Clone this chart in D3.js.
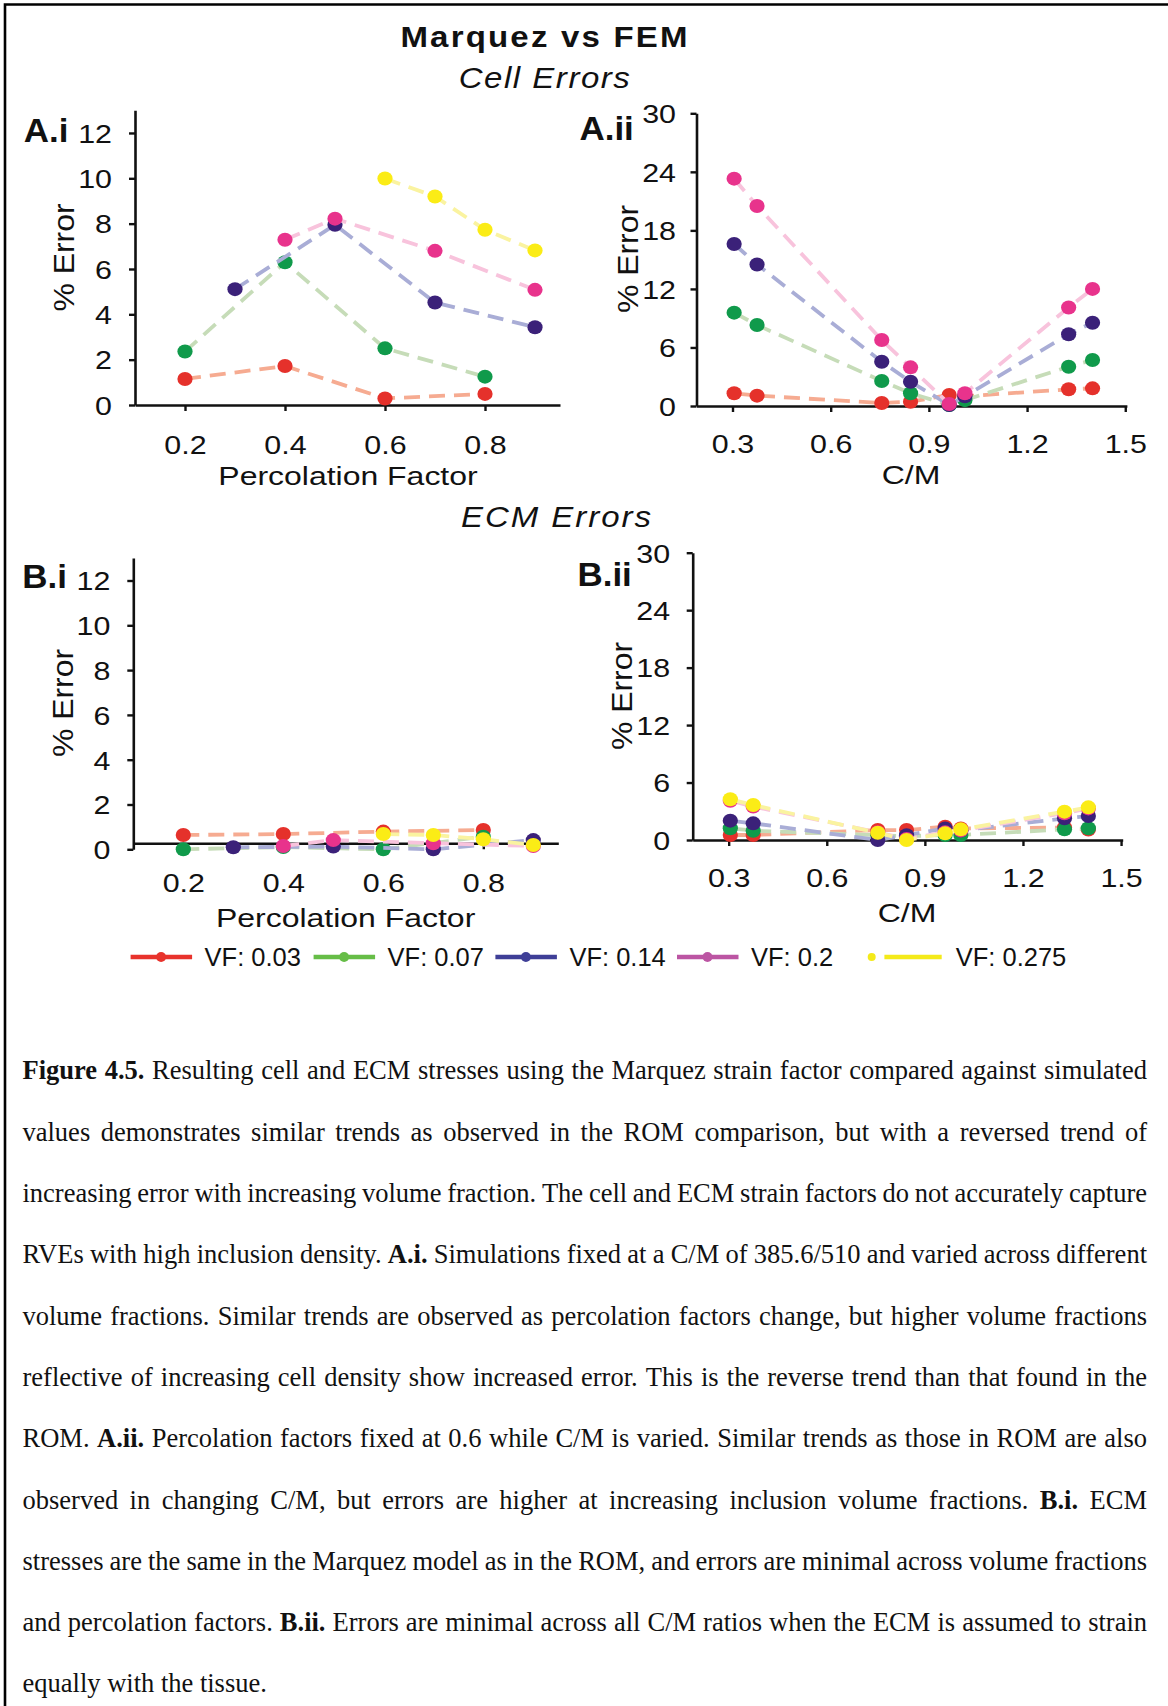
<!DOCTYPE html>
<html>
<head>
<meta charset="utf-8">
<script src="https://cdn.jsdelivr.net/npm/d3@7"></script>
<style>
  html, body { margin: 0; padding: 0; background: #fff; }
  svg { display: block; }
</style>
</head>
<body>
<svg id="fig" width="1168" height="1706"></svg>
<script>
// ---------------- data ----------------
const seriesNames = ["VF: 0.03", "VF: 0.07", "VF: 0.14", "VF: 0.2", "VF: 0.275"];

// percolation factors sampled for each volume fraction
const pfVF003  = [0.2, 0.4, 0.6, 0.8];
const pfVF007  = [0.2, 0.4, 0.6, 0.8];
const pfVF014  = [0.3, 0.5, 0.7, 0.9];
const pfVF020  = [0.4, 0.5, 0.7, 0.9];
const pfVF0275 = [0.6, 0.7, 0.8, 0.9];

// cell % error vs percolation factor (C/M fixed)
const cellErrPF003  = [1.15, 1.72, 0.29, 0.49];
const cellErrPF007  = [2.36, 6.30, 2.50, 1.25];
const cellErrPF014  = [5.11, 7.95, 4.52, 3.43];
const cellErrPF020  = [7.29, 8.22, 6.80, 5.08];
const cellErrPF0275 = [9.99, 9.20, 7.73, 6.82];

// ECM % error vs percolation factor
const ecmErrPF003  = [0.64, 0.68, 0.79, 0.86];
const ecmErrPF007  = [0.00, 0.10, 0.00, 0.56];
const ecmErrPF014  = [0.09, 0.12, 0.00, 0.41];
const ecmErrPF020  = [0.15, 0.41, 0.27, 0.15];
const ecmErrPF0275 = [0.68, 0.64, 0.45, 0.19];

// C/M ratios (percolation factor fixed at 0.6)
const cmRatios = [0.305, 0.375, 0.756, 0.844, 0.962, 1.01, 1.327, 1.40];

// cell % error vs C/M
const cellErrCM003 = [1.30, 1.06, 0.30, 0.44, 1.13, 1.00, 1.71, 1.81];
const cellErrCM007 = [9.57, 8.30, 2.56, 1.30, 0.10, 0.60, 4.03, 4.71];
const cellErrCM014 = [16.6, 14.5, 4.54, 2.49, 0.10, 1.00, 7.35, 8.54];
const cellErrCM020 = [23.3, 20.5, 6.76, 3.96, 0.20, 1.30, 10.1, 12.0];

// ECM % error vs C/M
const ecmErrCM003  = [0.52, 0.52, 1.04, 1.04, 1.39, 1.20, 1.30, 1.10];
const ecmErrCM007  = [1.22, 0.97, 0.50, 0.40, 0.52, 0.52, 1.11, 1.22];
const ecmErrCM014  = [2.02, 1.74, 0.00, 0.50, 1.20, 1.00, 2.26, 2.50];
const ecmErrCM020  = [4.10, 3.50, 0.80, 0.10, 0.80, 1.00, 2.80, 3.30];
const ecmErrCM0275 = [4.25, 3.65, 0.76, 0.00, 0.70, 1.11, 2.96, 3.41];

// tick values
const pfTicks = [0.2, 0.4, 0.6, 0.8];
const pfErrTicks = [0, 2, 4, 6, 8, 10, 12];
const cmTicks = [0.3, 0.6, 0.9, 1.2, 1.5];
const cmErrTicks = [0, 6, 12, 18, 24, 30];

// figure caption, one entry per printed line
const captionLines = [
  "Figure 4.5. Resulting cell and ECM stresses using the Marquez strain factor compared against simulated",
  "values demonstrates similar trends as observed in the ROM comparison, but with a reversed trend of",
  "increasing error with increasing volume fraction. The cell and ECM strain factors do not accurately capture",
  "RVEs with high inclusion density. A.i. Simulations fixed at a C/M of 385.6/510 and varied across different",
  "volume fractions. Similar trends are observed as percolation factors change, but higher volume fractions",
  "reflective of increasing cell density show increased error. This is the reverse trend than that found in the",
  "ROM. A.ii. Percolation factors fixed at 0.6 while C/M is varied. Similar trends as those in ROM are also",
  "observed in changing C/M, but errors are higher at increasing inclusion volume fractions. B.i. ECM",
  "stresses are the same in the Marquez model as in the ROM, and errors are minimal across volume fractions",
  "and percolation factors. B.ii. Errors are minimal across all C/M ratios when the ECM is assumed to strain",
  "equally with the tissue."
];
const boldWords = new Set(["Figure", "4.5.", "A.i.", "A.ii.", "B.i.", "B.ii."]);

// ---------------- styles ----------------
const SANS = "'Liberation Sans', Arial, Helvetica, sans-serif";
const SERIF = "'Liberation Serif', 'Times New Roman', serif";
const INK = "#111";
const dotColors    = ["#e5312b", "#109a4b", "#3b2179", "#e8338c", "#fbec16"];
const lineColors   = ["#f6ab91", "#c6dcb8", "#a9add6", "#f8c3dc", "#faf3a0"];
const legendColors = ["#e8332c", "#66bd47", "#3f3f97", "#bc55a3", "#f4ea1a"];

const svg = d3.select("#fig");

// frame (top and left rules)
svg.append("path")
  .attr("d", "M5,1706 V4.5 H1168")
  .attr("fill", "none").attr("stroke", "#000").attr("stroke-width", 2.6);

// text whose glyphs are widened along the baseline
function wideText(g, x, y, str, o) {
  const t = g.append("text")
    .attr("transform", `translate(${x},${y})${o.rotate ? " rotate(" + o.rotate + ")" : ""} scale(${o.sx || 1},1)`)
    .attr("text-anchor", o.anchor || "middle")
    .attr("fill", INK)
    .style("font-family", o.family || SANS)
    .style("font-size", o.size + "px")
    .text(str);
  if (o.weight) t.style("font-weight", o.weight);
  if (o.italic) t.style("font-style", "italic");
  if (o.spacing) t.style("letter-spacing", o.spacing + "px");
  return t;
}

// headings
wideText(svg, 545, 46.7, "Marquez vs FEM", { size: 30, sx: 1.1, weight: "bold", spacing: 2 });
wideText(svg, 545, 88.3, "Cell Errors", { size: 30, sx: 1.1, italic: true, spacing: 1.4 });
wideText(svg, 557, 527.3, "ECM Errors", { size: 30, sx: 1.1, italic: true, spacing: 1.8 });

// ---------------- panels ----------------
const panels = [
  {
    label: "A.i", labelX: 23.7, labelY: 141.7,
    xDomain: [0.1, 0.95], xRange: [135, 560],
    yDomain: [0, 13], yRange: [405, 110.3], xAxisAt: 0,
    xTicks: pfTicks, yTicks: pfErrTicks,
    xTitle: "Percolation Factor", xTitleX: 348, xTitleY: 485, xLabY: 49,
    yLabGap: 23, yTitleX: 63.7, yTitleY: 257.5,
    series: [
      { xs: pfVF003, ys: cellErrPF003, c: 0 },
      { xs: pfVF007, ys: cellErrPF007, c: 1 },
      { xs: pfVF014, ys: cellErrPF014, c: 2 },
      { xs: pfVF020, ys: cellErrPF020, c: 3 },
      { xs: pfVF0275, ys: cellErrPF0275, c: 4 }
    ]
  },
  {
    label: "A.ii", labelX: 579.4, labelY: 140,
    xDomain: [0.19, 1.505], xRange: [696.5, 1126.9],
    yDomain: [0, 30], yRange: [406, 113.3], xAxisAt: 0,
    xTicks: cmTicks, yTicks: cmErrTicks,
    xTitle: "C/M", xTitleX: 911, xTitleY: 484, xLabY: 46.7,
    yLabGap: 20.5, yTitleX: 628, yTitleY: 259,
    series: [
      { xs: cmRatios, ys: cellErrCM003, c: 0 },
      { xs: cmRatios, ys: cellErrCM007, c: 1 },
      { xs: cmRatios, ys: cellErrCM014, c: 2 },
      { xs: cmRatios, ys: cellErrCM020, c: 3 }
    ]
  },
  {
    label: "B.i", labelX: 22.2, labelY: 587.5,
    xDomain: [0.1, 0.95], xRange: [133.3, 558.3],
    yDomain: [0, 13], yRange: [849.3, 558.1], xAxisAt: 0.27,
    xTicks: pfTicks, yTicks: pfErrTicks,
    xTitle: "Percolation Factor", xTitleX: 345.6, xTitleY: 926.7, xLabY: 48.4,
    yLabGap: 23, yTitleX: 63, yTitleY: 703,
    series: [
      { xs: pfVF003, ys: ecmErrPF003, c: 0 },
      { xs: pfVF007, ys: ecmErrPF007, c: 1 },
      { xs: pfVF014, ys: ecmErrPF014, c: 2 },
      { xs: pfVF020, ys: ecmErrPF020, c: 3 },
      { xs: pfVF0275, ys: ecmErrPF0275, c: 4 }
    ]
  },
  {
    label: "B.ii", labelX: 577.4, labelY: 586,
    xDomain: [0.19, 1.505], xRange: [692.7, 1122.7],
    yDomain: [0, 30], yRange: [840, 552.7], xAxisAt: 0,
    xTicks: cmTicks, yTicks: cmErrTicks,
    xTitle: "C/M", xTitleX: 907, xTitleY: 921.7, xLabY: 46.7,
    yLabGap: 22.6, yTitleX: 622, yTitleY: 696,
    series: [
      { xs: cmRatios, ys: ecmErrCM003, c: 0 },
      { xs: cmRatios, ys: ecmErrCM007, c: 1 },
      { xs: cmRatios, ys: ecmErrCM014, c: 2 },
      { xs: cmRatios, ys: ecmErrCM020, c: 3 },
      { xs: cmRatios, ys: ecmErrCM0275, c: 4 }
    ]
  }
];

const TICK_FS = 26, TICK_SX = 1.17;

function styleAxis(g) {
  g.select(".domain").attr("stroke", INK).attr("stroke-width", 2.6);
  g.selectAll(".tick line").attr("stroke", INK).attr("stroke-width", 2.4);
  g.selectAll(".tick text")
    .attr("fill", INK)
    .style("font-family", SANS)
    .style("font-size", TICK_FS + "px");
}

panels.forEach(p => {
  const g = svg.append("g");
  const x = d3.scaleLinear().domain(p.xDomain).range(p.xRange);
  const y = d3.scaleLinear().domain(p.yDomain).range(p.yRange);

  // y axis
  const gy = g.append("g")
    .attr("transform", `translate(${p.xRange[0]},0)`)
    .call(d3.axisLeft(y).tickValues(p.yTicks).tickSize(6).tickSizeOuter(0).tickFormat(d3.format("d")));
  styleAxis(gy);
  gy.selectAll(".tick text")
    .attr("x", 0).attr("y", 0).attr("dy", null)
    .attr("text-anchor", "end")
    .attr("transform", `translate(${-p.yLabGap},${0.358 * TICK_FS}) scale(${TICK_SX},1)`);

  // x axis (labels hang a fixed distance below the drawn axis line)
  const gx = g.append("g")
    .attr("transform", `translate(0,${y(p.xAxisAt)})`)
    .call(d3.axisBottom(x).tickValues(p.xTicks).tickSize(6).tickSizeOuter(0).tickFormat(d3.format(".1f")));
  styleAxis(gx);
  gx.selectAll(".tick text")
    .attr("x", 0).attr("y", 0).attr("dy", null)
    .attr("text-anchor", "middle")
    .attr("transform", `translate(0,${p.xLabY}) scale(${TICK_SX},1)`);

  // axis titles
  wideText(g, p.xTitleX, p.xTitleY, p.xTitle, { size: 26, sx: 1.23 });
  wideText(g, p.yTitleX + 0.358 * 29, p.yTitleY, "% Error", { size: 29, sx: 1.1, rotate: -90 });

  // panel tag
  wideText(g, p.labelX, p.labelY, p.label, { size: 33, sx: 1.06, weight: "bold", anchor: "start" });

  // series: pale dashed connector, then solid markers
  const line = d3.line().x(d => x(d[0])).y(d => y(d[1]));
  p.series.forEach(s => {
    const pts = s.xs.map((v, i) => [v, s.ys[i]]);
    g.append("path")
      .attr("d", line(pts))
      .attr("fill", "none")
      .attr("stroke", lineColors[s.c])
      .attr("stroke-width", 3.8)
      .attr("stroke-dasharray", "16,9");
    g.selectAll(null).data(pts).enter().append("ellipse")
      .attr("cx", d => x(d[0]))
      .attr("cy", d => y(d[1]))
      .attr("rx", 7.6).attr("ry", 7)
      .attr("fill", dotColors[s.c]);
  });
});

// ---------------- legend ----------------
const legendY = 957;
const legendItemX = [130.6, 313.6, 495.4, 677, 871.7];
const lg = svg.append("g");
seriesNames.forEach((name, i) => {
  const x0 = legendItemX[i];
  let lineA, lineB, dotX, textX, dotR = 5;
  if (i < 4) {
    lineA = x0; lineB = x0 + 61.5; dotX = x0 + 30.5; textX = x0 + 74;
  } else {
    dotX = x0; lineA = x0 + 12.7; lineB = x0 + 70; textX = x0 + 84;
    dotR = 4;
  }
  lg.append("line")
    .attr("x1", lineA).attr("x2", lineB)
    .attr("y1", legendY).attr("y2", legendY)
    .attr("stroke", legendColors[i]).attr("stroke-width", 4.5);
  lg.append("circle").attr("cx", dotX).attr("cy", legendY).attr("r", dotR)
    .attr("fill", legendColors[i]);
  wideText(lg, textX, legendY + 9, name, { size: 25, sx: 1.02, anchor: "start" });
});

// ---------------- caption (justified) ----------------
const capLeft = 22.5, capRight = 1147, capBase = 1079.4, capLead = 61.3;
const capG = svg.append("g")
  .style("font-family", SERIF)
  .style("font-size", "26.5px")
  .attr("fill", INK);

const probe = capG.append("text").text("a b");
const probeNo = capG.append("text").text("ab");
const spaceW = probe.node().getComputedTextLength() - probeNo.node().getComputedTextLength();
probe.remove(); probeNo.remove();

captionLines.forEach((lineStr, i) => {
  const words = lineStr.split(" ");
  const t = capG.append("text").attr("y", capBase + i * capLead);
  const spans = words.map(w => {
    const s = t.append("tspan").text(w);
    if (boldWords.has(w)) s.style("font-weight", "bold");
    return s;
  });
  const widths = spans.map(s => s.node().getComputedTextLength());
  const total = d3.sum(widths);
  const last = i === captionLines.length - 1;
  const gap = last ? spaceW : (capRight - capLeft - total) / (words.length - 1);
  let cx = capLeft;
  spans.forEach((s, j) => { s.attr("x", cx); cx += widths[j] + gap; });
});
</script>
</body>
</html>
